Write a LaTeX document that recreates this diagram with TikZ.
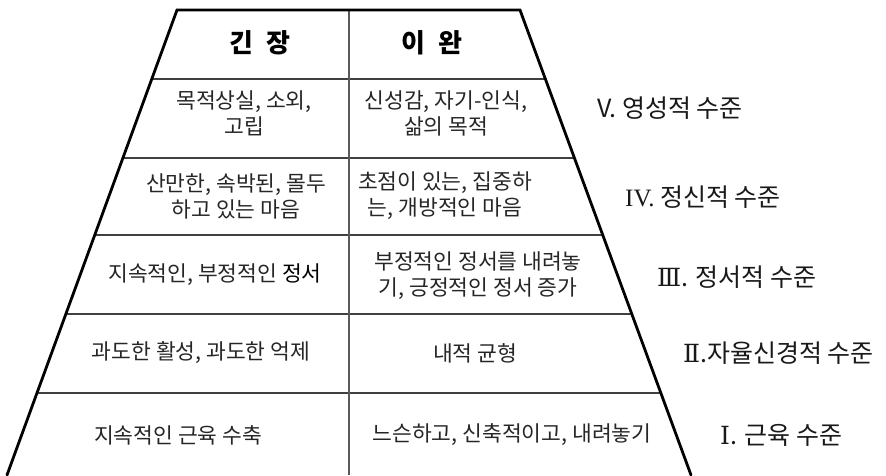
\documentclass[tikz,border=0pt]{standalone}
\usepackage{fontspec}
\setmainfont{Noto Sans CJK KR}
\newfontfamily\romanfont{Liberation Serif}
\newfontfamily\numfont{DejaVu Serif}
\usetikzlibrary{calc}
\begin{document}
\begin{tikzpicture}[x=1pt,y=-1pt,
  edge/.style={line width=2.8pt,black},
  rowline/.style={line width=1.4pt,black!75},
  colline/.style={line width=1.4pt,black!65},
  head/.style={font=\fontsize{26}{30}\selectfont\bfseries,text=black,inner sep=0pt},
  cell/.style={font=\fontsize{21.5}{26}\selectfont,text=black!85,align=center,inner sep=0pt},
  level/.style={font=\fontsize{25}{28}\selectfont,text=black!90,anchor=west,inner sep=0pt}]
\useasboundingbox (0,0) rectangle (886,475);
\coordinate (tl) at (177,10);
\coordinate (tr) at (520,10);
\coordinate (br) at (691,475);
\coordinate (bl) at (7,475);
% row lines
\foreach \f in {0.1484,0.3183,0.4839,0.6538,0.8237}{
  \draw[rowline] ($(tl)!\f!(bl)$) -- ($(tr)!\f!(br)$);
}
% column line
\coordinate (ct) at (349,10);
\coordinate (cb) at (349,475);
\draw[colline] (ct) -- (cb);
% outline
\draw[edge,line cap=round] (bl) -- (tl) -- (tr) -- (br);
% header
\node[head] (h1) at (260,43) {긴\hspace{14pt}장};
\node[head] (h2) at (432,43) {이\hspace{14pt}완};
% cells
\node[cell] (r1l) at (244,113) {목적상실, 소외,\\고립};
\node[cell] (r1r) at (446,113) {신성감, 자기-인식,\\삶의 목적};
\node[cell] (r2l) at (236,196) {산만한, 속박된, 몰두\\하고 있는 마음};
\node[cell] (r2r) at (445,196) {초점이 있는, 집중하\\는, 개방적인 마음};
\node[cell] (r3l) at (215,275) {지속적인, 부정적인 \textcolor{black}{정서}};
\node[cell] (r3r) at (478,276) {부정적인 정서를 내려놓\\기, 긍정적인 정서 증가};
\node[cell] (r4l) at (201,353) {과도한 활성, 과도한 억제};
\node[cell] (r4r) at (475,353) {내적 균형};
\node[cell] (r5l) at (178,435) {지속적인 근육 수축};
\node[cell] (r5r) at (512,435) {느슨하고, 신축적이고, 내려놓기};
% levels
\node[level] (l5) at (597,108) {V. 영성적 수준};
\node[level] (l4) at (625,197) {{\romanfont IV.} 정신적 수준};
\node[level] (l3) at (657,277) {{\numfont Ⅲ}. 정서적 수준};
\node[level] (l2) at (683,353) {{\numfont Ⅱ}.자율신경적 수준};
\node[level] (l1) at (720,435) {{\numfont Ⅰ}. 근육 수준};
\end{tikzpicture}
\end{document}
